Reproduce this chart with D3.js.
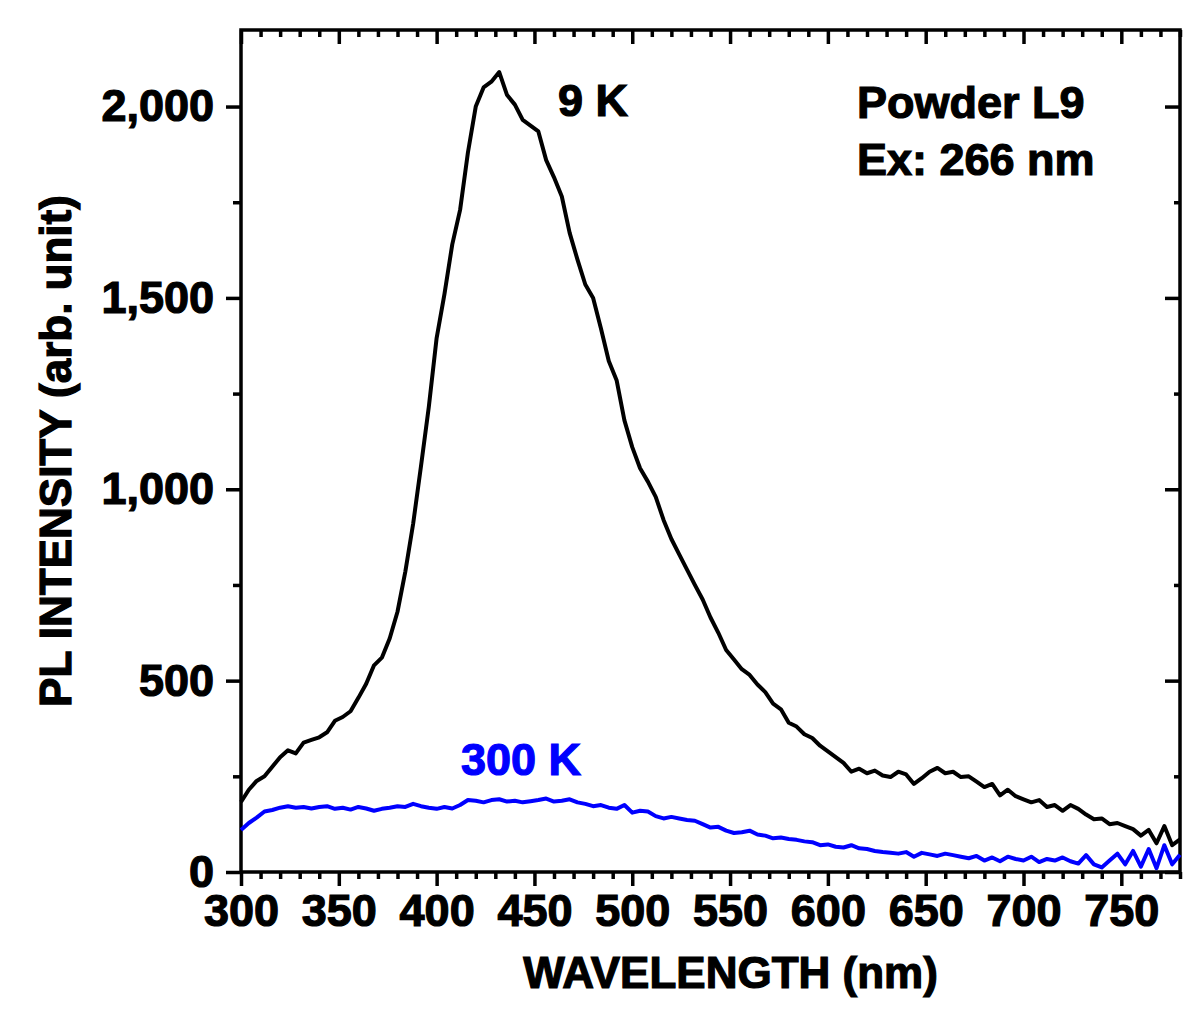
<!DOCTYPE html>
<html><head><meta charset="utf-8">
<script src="https://cdn.jsdelivr.net/npm/d3@7"></script>
<style>
body{margin:0;background:#fff;}
text{font-family:"Liberation Sans",Arial,sans-serif;font-weight:bold;stroke-width:1.2px;}
</style></head>
<body><svg id="c" width="1200" height="1016"></svg>
<script>
const wavelengths = d3.range(300, 781, 4);
const pl9K = [183,215,238,250,275,300,318,310,338,345,352,365,395,405,420,455,492,540,560,610,
680,785,910,1060,1215,1395,1510,1640,1730,1880,2000,2050,2065,2090,2030,2005,1965,1950,1935,1860,
1815,1765,1670,1600,1535,1500,1420,1335,1285,1180,1110,1055,1020,980,920,870,830,790,750,712,
665,625,580,555,530,515,490,470,440,425,390,380,360,350,330,315,300,285,262,270,
258,265,252,248,262,255,230,245,262,272,258,262,248,250,236,222,230,200,215,198,
190,182,188,170,175,160,175,165,150,138,140,125,128,120,112,95,110,75,120,70,85];
const pl300K = [110,128,142,158,162,168,172,168,170,166,170,172,165,168,163,170,166,160,165,168,
172,170,178,172,168,165,170,166,175,188,186,182,188,190,184,186,182,185,188,192,
184,186,190,182,178,172,175,168,165,175,155,160,158,146,140,144,140,136,134,125,
116,118,108,102,104,108,98,95,88,90,86,84,80,78,70,72,66,64,70,62,
60,55,52,50,48,52,40,50,46,42,48,44,40,36,42,30,38,28,40,34,
30,40,26,34,30,38,28,22,44,20,12,30,48,20,55,14,60,10,70,20,45];
const xTicks = [300,350,400,450,500,550,600,650,700,750];
const yTicks = [0,500,1000,1500,2000];
const xDomain = [300,780];
const yDomain = [0,2200];

const svg = d3.select("#c");
const L=241, R=1180, T=30, B=872;
const x = d3.scaleLinear().domain(xDomain).range([L,R]);
const y = d3.scaleLinear().domain(yDomain).range([B,T]);
const fmt = d3.format(",");
const fs = 45;

function styleAxis(g){
  g.select(".domain").remove();
  g.selectAll("line").attr("stroke","#000").attr("stroke-width",3.5);
  g.selectAll("text").attr("fill","#000").attr("stroke","#000").style("font-size",fs+"px");
}
const xMinor = d3.range(300,781,10).filter(v=>v%50!==0);
const yMinor = d3.range(0,2201,250).filter(v=>v%500!==0);

svg.append("g").attr("transform",`translate(0,${B})`)
  .call(d3.axisBottom(x).tickValues(xMinor).tickSize(7).tickFormat(""))
  .call(styleAxis);
svg.append("g").attr("transform",`translate(0,${B})`)
  .call(d3.axisBottom(x).tickValues(xTicks).tickSize(14).tickPadding(8).tickFormat(d3.format("d")))
  .call(styleAxis);
svg.append("g").attr("transform",`translate(0,${T})`)
  .call(d3.axisBottom(x).tickValues(xMinor).tickSize(7).tickFormat(""))
  .call(styleAxis);
svg.append("g").attr("transform",`translate(0,${T})`)
  .call(d3.axisBottom(x).tickValues(xTicks).tickSize(14).tickFormat(""))
  .call(styleAxis);
svg.append("g").attr("transform",`translate(${L},0)`)
  .call(d3.axisLeft(y).tickValues(yMinor).tickSize(8).tickFormat(""))
  .call(styleAxis);
svg.append("g").attr("transform",`translate(${L},0)`)
  .call(d3.axisLeft(y).tickValues(yTicks).tickSize(15).tickPadding(12).tickFormat(fmt))
  .call(styleAxis);
svg.append("g").attr("transform",`translate(${R},0)`)
  .call(d3.axisRight(y).tickValues(yMinor).tickSize(-6).tickFormat(""))
  .call(styleAxis);
svg.append("g").attr("transform",`translate(${R},0)`)
  .call(d3.axisRight(y).tickValues(yTicks).tickSize(-15).tickFormat(""))
  .call(styleAxis);

svg.append("rect").attr("x",L).attr("y",T).attr("width",R-L).attr("height",B-T)
  .attr("fill","none").attr("stroke","#000").attr("stroke-width",3.5);

const line = d3.line().x((d,i)=>x(wavelengths[i])).y(d=>y(d));
svg.append("path").datum(pl300K).attr("d",line).attr("fill","none")
  .attr("stroke","#0000ff").attr("stroke-width",4).attr("stroke-linejoin","round");
svg.append("path").datum(pl9K).attr("d",line).attr("fill","none")
  .attr("stroke","#000").attr("stroke-width",4).attr("stroke-linejoin","round");

function label(xp,yp,t,c){
  svg.append("text").attr("x",xp).attr("y",yp).attr("fill",c).attr("stroke",c)
    .style("font-size",fs+"px").text(t);
}
label(558,116,"9 K","#000");
label(857,118,"Powder L9","#000");
label(857,175,"Ex: 266 nm","#000");
label(461,775,"300 K","#0000ff");

svg.append("text").attr("x",(L+R)/2+20).attr("y",988).attr("text-anchor","middle")
  .attr("stroke","#000").style("font-size","44px").text("WAVELENGTH (nm)");
svg.append("text").attr("transform",`translate(71,${(T+B)/2}) rotate(-90)`).attr("text-anchor","middle")
  .attr("stroke","#000").style("font-size","44px").text("PL INTENSITY (arb. unit)");
</script></body></html>
